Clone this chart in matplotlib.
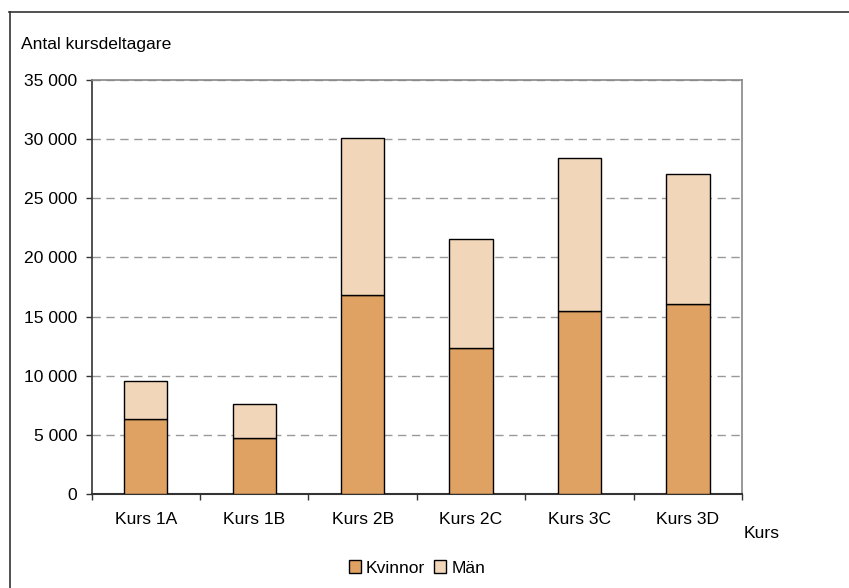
import matplotlib
matplotlib.use("Agg")
import matplotlib.pyplot as plt
from matplotlib.ticker import FuncFormatter, FixedLocator
from matplotlib.lines import Line2D
import numpy as np

plt.rcParams['font.family'] = ['Liberation Sans', 'DejaVu Sans']

courses = ["Kurs 1A", "Kurs 1B", "Kurs 2B", "Kurs 2C", "Kurs 3C", "Kurs 3D"]
women = [6300, 4700, 16800, 12300, 15500, 16100]
men_total = [9500, 7600, 30100, 21600, 28400, 27100]
men = [t - w for t, w in zip(men_total, women)]

W_COLOR = "#E0A262"
M_COLOR = "#F2D6BA"
FS = 12.6

fig = plt.figure(figsize=(8.49, 5.88), dpi=100)
ax = fig.add_axes([0.1079, 0.1604, 0.7661, 0.7030])

x = np.arange(len(courses))
ax.bar(x, women, width=0.4, color=W_COLOR, edgecolor="black", linewidth=1.0,
       label="Kvinnor", zorder=3)
ax.bar(x, men, width=0.4, bottom=women, color=M_COLOR, edgecolor="black",
       linewidth=1.0, label="Män", zorder=3)

ax.set_xlim(-0.5, len(courses) - 0.5)
ax.set_ylim(0, 35000)
ax.set_yticks(np.arange(0, 35001, 5000))
ax.yaxis.set_major_formatter(FuncFormatter(lambda v, p: f"{int(v):,}".replace(",", " ")))
ax.set_xticks(x)
ax.set_xticklabels(courses)
ax.xaxis.set_minor_locator(FixedLocator(np.arange(-0.5, len(courses), 1.0)))

ax.tick_params(axis="x", which="major", length=0, pad=13, labelsize=FS)
ax.tick_params(axis="x", which="minor", length=4, width=1.0, direction="out", color="#333333")
ax.tick_params(axis="y", which="major", length=4, width=1.0, direction="out", pad=6.5,
               labelsize=FS, color="#333333")

ax.grid(axis="y", linestyle=(0, (6, 4)), color="#999999", linewidth=1.0, zorder=1)
ax.set_axisbelow(True)

for side in ("top", "right"):
    ax.spines[side].set_color("#888888")
    ax.spines[side].set_linewidth(1.2)
ax.spines["left"].set_color("#333333")
ax.spines["bottom"].set_color("#333333")
ax.spines["left"].set_linewidth(1.2)
ax.spines["bottom"].set_linewidth(1.5)

fig.text(21 / 849, 1 - 45 / 588, "Antal kursdeltagare", fontsize=FS, va="center", ha="left")
fig.text(744 / 849, 1 - 534 / 588, "Kurs", fontsize=FS, va="center", ha="left")

fig.legend(loc="center", bbox_to_anchor=(417 / 849, 1 - 568 / 588), ncol=2, frameon=False,
           fontsize=FS, handlelength=0.7, handleheight=0.7, handletextpad=0.3,
           columnspacing=0.5, borderpad=0)

# outer frame lines (top and left)
fig.add_artist(Line2D([9 / 849, 1.0], [1 - 12 / 588, 1 - 12 / 588], transform=fig.transFigure,
                      color="#333333", linewidth=1.2))
fig.add_artist(Line2D([9.5 / 849, 9.5 / 849], [1 - 12 / 588, 0.0], transform=fig.transFigure,
                      color="#333333", linewidth=1.2))

fig.savefig("out.png", dpi=100)
